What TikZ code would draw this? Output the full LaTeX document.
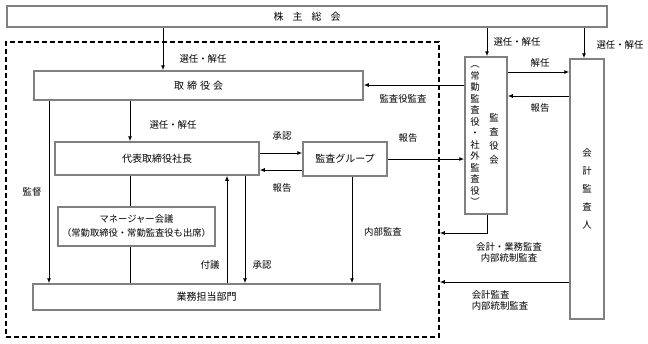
\documentclass[tikz,border=0pt]{standalone}
\usepackage{fontspec}
\setmainfont{Noto Sans CJK JP}
\usetikzlibrary{arrows.meta}
\newcommand{\lblfont}{\fontsize{9.4}{11}\selectfont}
\newcommand{\boxfont}{\fontsize{10}{12}\selectfont}

\begin{document}
\begin{tikzpicture}[x=1pt, y=-1pt, >={Latex[length=5pt,width=4pt]},
    box/.style={draw=gray, line width=1.5pt, fill=white, inner sep=0pt, font=\boxfont},
    lbl/.style={font=\lblfont, inner sep=1pt},
    vtext/.style={font=\lblfont, inner sep=0pt, align=center},
    every path/.style={line width=1pt}]
    \useasboundingbox (0,0) rectangle (648,343);
    \fill[white] (0,0) rectangle (648,343);
    % ==== COMPANY FRAME ====
    \node[draw, dashed, dash pattern=on 5pt off 3pt, line width=1.5pt, inner sep=0pt,
        minimum width=433, minimum height=295] (outer) at (222.5,189.5) {};
    % ==== BOXES ====
    \node[box, minimum width=600, minimum height=21] (soukai) at (307,16.5)
        {株\hspace{9pt}主\hspace{9pt}総\hspace{9pt}会};
    \node[box, minimum width=329, minimum height=29] (torishimari) at (198.5,85.5)
        {取\hspace{3pt}締\hspace{3pt}役\hspace{3pt}会};
    \node[box, minimum width=204, minimum height=33] (daihyo) at (157,158.5) {代表取締役社長};
    \node[box, minimum width=157, minimum height=39, align=center,
        font=\fontsize{9.3}{11}\selectfont] (manager) at (136.5,226.5)
        {マネージャー会議\\[3pt]（常勤取締役・常勤監査役も出席）};
    \node[box, minimum width=347, minimum height=26] (gyomu) at (206.5,297) {業務担当部門};
    \node[box, minimum width=84, minimum height=34] (kansagroup) at (345,159) {監査グループ};
    \node[box, minimum width=42, minimum height=157] (kansayakukai) at (486,135.5) {};
    \node[box, minimum width=34, minimum height=260] (kaikei) at (587,189) {};
    % ==== VERTICAL TEXT ====
    \node[vtext, font=\fontsize{9.4}{11.5}\selectfont] (kyMembers) at (475,136)
        {︵\\常\\勤\\監\\査\\役\\・\\社\\外\\監\\査\\役\\︶};
    \node[vtext, font=\fontsize{9.4}{14}\selectfont] (kyName) at (494,139) {監\\査\\役\\会};
    \node[vtext, font=\fontsize{9.4}{18}\selectfont] (kaikeiName) at (587,189) {会\\計\\監\\査\\人};
    % ==== COLUMNS AND ROWS ====
    \coordinate (cSoukai) at (163,0);
    \coordinate (cKantoku) at (49,0);
    \coordinate (cDaihyo) at (130,0);
    \coordinate (cFugi) at (227,0);
    \coordinate (cShonin) at (245,0);
    \coordinate (cNaibu) at (352,0);
    \coordinate (cKansayaku) at (487,0);
    \coordinate (cKaikei) at (584,0);
    \coordinate (rShonin) at (0,153);
    \coordinate (rHokoku) at (0,170);
    \coordinate (rKansa) at (0,85);
    \coordinate (rKainin) at (0,72);
    \coordinate (rKaikeiHokoku) at (0,96);
    \coordinate (rGyomuKansa) at (0,233);
    \coordinate (rKaikeiKansa) at (0,282);
    % ==== CONNECTORS ====
    \draw[->] (soukai.south -| cSoukai) -- (torishimari.north -| cSoukai);
    \draw[->] (torishimari.south -| cKantoku) -- (gyomu.north -| cKantoku);
    \draw[->] (torishimari.south -| cDaihyo) -- (daihyo.north -| cDaihyo);
    \draw (daihyo.south -| cDaihyo) -- (manager.north -| cDaihyo);
    \draw (manager.south -| cDaihyo) -- (gyomu.north -| cDaihyo);
    \draw[->] (gyomu.north -| cFugi) -- (daihyo.south -| cFugi);
    \draw[->] (daihyo.south -| cShonin) -- (gyomu.north -| cShonin);
    \draw[->] (daihyo.east |- rShonin) -- (kansagroup.west |- rShonin);
    \draw[->] (kansagroup.west |- rHokoku) -- (daihyo.east |- rHokoku);
    \draw[->] (kansagroup.east) -- (kansayakukai.west |- kansagroup.east);
    \draw[->] (kansagroup.south -| cNaibu) -- (gyomu.north -| cNaibu);
    \draw[->] (kansayakukai.west |- rKansa) -- (torishimari.east |- rKansa);
    \draw[->] (soukai.south -| cKansayaku) -- (kansayakukai.north -| cKansayaku);
    \draw[->] (soukai.south -| cKaikei) -- (kaikei.north -| cKaikei);
    \draw[->] (kansayakukai.east |- rKainin) -- (kaikei.west |- rKainin);
    \draw[->] (kaikei.west |- rKaikeiHokoku) -- (kansayakukai.east |- rKaikeiHokoku);
    \draw[->] (kansayakukai.south -| cKansayaku) |- (outer.east |- rGyomuKansa);
    \draw[->] (kaikei.west |- rKaikeiKansa) -- (outer.east |- rKaikeiKansa);
    % ==== LABELS ====
    \node[lbl] (lSenninA) at (203,59) {選任・解任};
    \node[lbl] (lSenninB) at (173,125) {選任・解任};
    \node[lbl] (lSenninC) at (517,42) {選任・解任};
    \node[lbl] (lSenninD) at (620,45) {選任・解任};
    \node[lbl] (lKantoku) at (32,192) {監督};
    \node[lbl] (lShoninA) at (282,136) {承認};
    \node[lbl] (lHokokuA) at (282,188) {報告};
    \node[lbl] (lHokokuB) at (408,138) {報告};
    \node[lbl] (lKansayaku) at (403,99) {監査役監査};
    \node[lbl] (lKainin) at (540,63) {解任};
    \node[lbl] (lHokokuC) at (540,108) {報告};
    \node[lbl] (lNaibu) at (383,232) {内部監査};
    \node[lbl] (lFugi) at (210,265) {付議};
    \node[lbl] (lShoninB) at (262,265) {承認};
    \node[lbl, align=center] (lGyomuKansa) at (509,252) {会計・業務監査\\内部統制監査};
    \node[lbl, align=left] (lKaikeiKansa) at (500,300) {会計監査\\内部統制監査};
\end{tikzpicture}
\end{document}
